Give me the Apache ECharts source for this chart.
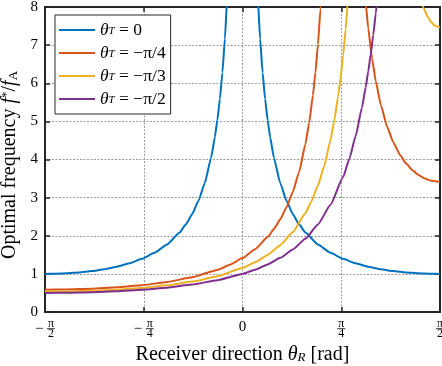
<!DOCTYPE html>
<html>
<head>
<meta charset="utf-8">
<script src="https://cdn.jsdelivr.net/npm/echarts@6/dist/echarts.min.js"></script>
<style>
  html, body { margin: 0; padding: 0; background: #fff; }
  #chart { width: 442px; height: 366px; }
</style>
</head>
<body>
<div id="chart"></div>
<script>
// Optimal frequency f*/f_A versus receiver direction theta_R, for four transmitter directions theta_T.
const thetaTLabels = ['0', '\u2212\u03c0/4', '\u2212\u03c0/3', '\u2212\u03c0/2'];
const colors = ['#0072BD', '#D95319', '#EDB120', '#7E2F8E'];

// theta_T = 0 (two branches around theta_R = 0)
const thetaBlueL = [-1.5708, -1.5, -1.4, -1.3, -1.2, -1.1, -1.0, -0.9, -0.8, -0.7, -0.6, -0.5, -0.45, -0.4, -0.35, -0.3, -0.25, -0.22, -0.2, -0.18, -0.16, -0.14, -0.12, -0.11];
const fBlueL = [1.000, 1.003, 1.015, 1.038, 1.073, 1.122, 1.188, 1.277, 1.394, 1.552, 1.771, 2.086, 2.299, 2.568, 2.916, 3.384, 4.042, 4.582, 5.034, 5.586, 6.277, 7.166, 8.354, 9.109];
const thetaBlueR = [0.11, 0.12, 0.14, 0.16, 0.18, 0.2, 0.22, 0.25, 0.3, 0.35, 0.4, 0.45, 0.5, 0.6, 0.7, 0.8, 0.9, 1.0, 1.1, 1.2, 1.3, 1.4, 1.5, 1.5708];
const fBlueR = [9.109, 8.354, 7.166, 6.277, 5.586, 5.034, 4.582, 4.042, 3.384, 2.916, 2.568, 2.299, 2.086, 1.771, 1.552, 1.394, 1.277, 1.188, 1.122, 1.073, 1.038, 1.015, 1.003, 1.000];

// theta_T = -pi/4
const thetaOrangeL = [-1.5708, -1.4, -1.2, -1.0, -0.8, -0.6, -0.4, -0.2, -0.1, 0, 0.1, 0.2, 0.25, 0.3, 0.35, 0.4, 0.45, 0.5, 0.53, 0.56, 0.58, 0.6, 0.62, 0.64];
const fOrangeL = [0.586, 0.591, 0.610, 0.646, 0.702, 0.786, 0.912, 1.104, 1.239, 1.414, 1.647, 1.967, 2.175, 2.430, 2.746, 3.148, 3.675, 4.392, 4.961, 5.684, 6.286, 7.019, 7.932, 9.098];
const thetaOrangeR = [0.96, 0.98, 1.0, 1.03, 1.06, 1.1, 1.15, 1.2, 1.25, 1.3, 1.35, 1.4, 1.45, 1.5, 1.5708];
const fOrangeR = [8.922, 8.104, 7.443, 6.658, 6.051, 5.432, 4.863, 4.446, 4.134, 3.899, 3.723, 3.593, 3.501, 3.444, 3.414];

// theta_T = -pi/3
const thetaYellowL = [-1.5708, -1.4, -1.2, -1.0, -0.8, -0.6, -0.4, -0.2, 0, 0.1, 0.2, 0.3, 0.4, 0.5, 0.55, 0.6, 0.65, 0.7, 0.73, 0.76, 0.78, 0.8, 0.82, 0.84, 0.86];
const fYellowL = [0.536, 0.540, 0.556, 0.586, 0.632, 0.699, 0.797, 0.939, 1.155, 1.305, 1.498, 1.753, 2.098, 2.587, 2.913, 3.318, 3.834, 4.508, 5.021, 5.646, 6.144, 6.726, 7.414, 8.238, 9.243];
const thetaYellowR = [1.42, 1.44, 1.47, 1.5, 1.53, 1.5708];
const fYellowR = [8.155, 7.973, 7.759, 7.607, 7.511, 7.464];

// theta_T = -pi/2
const thetaPurple = [-1.5708, -1.4, -1.2, -1.0, -0.8, -0.6, -0.4, -0.2, 0, 0.1, 0.2, 0.3, 0.4, 0.5, 0.6, 0.7, 0.8, 0.85, 0.9, 0.95, 0.98, 1.0, 1.02, 1.04, 1.06, 1.08, 1.1];
const fPurple = [0.500, 0.504, 0.518, 0.543, 0.582, 0.639, 0.720, 0.834, 1.000, 1.111, 1.248, 1.420, 1.638, 1.921, 2.297, 2.811, 3.538, 4.021, 4.615, 5.360, 5.900, 6.308, 6.762, 7.267, 7.835, 8.472, 9.192];

// axis ranges and ticks
const xMin = -Math.PI / 2, xMax = Math.PI / 2, xStep = Math.PI / 4;
const yMin = 0, yMax = 8, yStep = 1;

const pairs = (xs, ys) => xs.map((x, i) => [x, ys[i]]);

const branches = [
  { k: 0, d: pairs(thetaBlueL, fBlueL) },
  { k: 0, d: pairs(thetaBlueR, fBlueR) },
  { k: 1, d: pairs(thetaOrangeL, fOrangeL) },
  { k: 1, d: pairs(thetaOrangeR, fOrangeR) },
  { k: 2, d: pairs(thetaYellowL, fYellowL) },
  { k: 2, d: pairs(thetaYellowR, fYellowR) },
  { k: 3, d: pairs(thetaPurple, fPurple) }
];

const SERIF = 'Liberation Serif';
const INK = '#262626';
const GRID = '#9a9a9a';

const series = branches.map(b => ({
  type: 'line',
  name: thetaTLabels[b.k],
  data: b.d,
  xAxisIndex: 0,
  yAxisIndex: 0,
  symbol: 'none',
  showSymbol: false,
  clip: true,
  smooth: 0.15,
  smoothMonotone: 'x',
  color: colors[b.k],
  itemStyle: { color: colors[b.k] },
  lineStyle: { color: colors[b.k], width: 2 },
  z: 3 + b.k
}));

// stacked-fraction tick labels for multiples of pi/4
function piLabel(v) {
  const k = Math.round(v / xStep);
  if (k === 0) return '{z|0}';
  const den = Math.abs(k) === 1 ? '4' : '2';
  if (k < 0) return '{sp|}{n|\u03c0}\n{m|\u2212}{bar|}\n{sp|}{d|' + den + '}';
  return '{n|\u03c0}\n{bar|}\n{d|' + den + '}';
}

const option = {
  animation: false,
  backgroundColor: '#fff',
  grid: { left: 45, right: 2, top: 7, bottom: 54, containLabel: false, outerBoundsMode: 'none' },
  legend: {
    data: thetaTLabels,
    orient: 'vertical',
    left: 55,
    top: 15,
    padding: [6, 5, 6, 4],
    itemGap: 5,
    itemWidth: 36,
    itemHeight: 2,
    icon: 'rect',
    backgroundColor: '#fff',
    borderColor: INK,
    borderWidth: 1,
    borderRadius: 0,
    selectedMode: false,
    formatter: name => '{i|\u03b8}{s|T}{t| = ' + name + '}',
    textStyle: {
      color: '#000',
      rich: {
        t: { fontFamily: SERIF, fontSize: 17.5, lineHeight: 14, color: '#000' },
        i: { fontFamily: SERIF, fontSize: 17.5, fontStyle: 'italic', lineHeight: 14, color: '#000' },
        s: { fontFamily: SERIF, fontSize: 11, fontStyle: 'italic', lineHeight: 6, verticalAlign: 'bottom', color: '#000' }
      }
    }
  },
  xAxis: [
    {
      type: 'value', min: xMin, max: xMax, interval: xStep, position: 'bottom',
      name: '{t|Receiver direction }{i|\u03b8}{s|R}{t| [rad]}',
      nameLocation: 'middle', nameGap: 28,
      nameTextStyle: {
        rich: {
          t: { fontFamily: SERIF, fontSize: 20, lineHeight: 20, color: '#000' },
          i: { fontFamily: SERIF, fontSize: 20, fontStyle: 'italic', lineHeight: 20, color: '#000' },
          s: { fontFamily: SERIF, fontSize: 13, fontStyle: 'italic', lineHeight: 8, verticalAlign: 'bottom', color: '#000' }
        }
      },
      axisLine: { show: true, onZero: false, lineStyle: { color: INK, width: 2 } },
      axisTick: { show: true, inside: true, length: 5, lineStyle: { color: INK, width: 1.5 } },
      splitLine: { show: true, lineStyle: { color: GRID, width: 1, type: [2, 1.5] } },
      axisLabel: {
        margin: 8,
        formatter: piLabel,
        rich: {
          z: { fontFamily: SERIF, fontSize: 15, lineHeight: 14, color: '#000' },
          n: { fontFamily: SERIF, fontSize: 12, width: 8, align: 'center', lineHeight: 8, color: '#000' },
          d: { fontFamily: SERIF, fontSize: 12, width: 8, align: 'center', lineHeight: 8, color: '#000' },
          bar: { width: 8, height: 0.8, lineHeight: 1.5, backgroundColor: '#000' },
          m: { fontFamily: SERIF, fontSize: 15, width: 12, align: 'left', lineHeight: 1.5, color: '#000' },
          sp: { width: 12, lineHeight: 8 }
        }
      }
    },
    {
      type: 'value', min: xMin, max: xMax, interval: xStep, position: 'top',
      axisLine: { show: true, onZero: false, lineStyle: { color: INK, width: 2 } },
      axisTick: { show: true, inside: true, length: 5, lineStyle: { color: INK, width: 1.5 } },
      axisLabel: { show: false },
      splitLine: { show: false }
    }
  ],
  yAxis: [
    {
      type: 'value', min: yMin, max: yMax, interval: yStep, position: 'left',
      name: '{t|Optimal frequency }{i|f}{p|*}{t|/}{i|f}{s|A}',
      nameLocation: 'middle', nameRotate: 90, nameGap: 22,
      nameTextStyle: {
        padding: [0, 11, 0, 0],
        rich: {
          t: { fontFamily: SERIF, fontSize: 20, lineHeight: 20, color: '#000' },
          i: { fontFamily: SERIF, fontSize: 20, fontStyle: 'italic', lineHeight: 20, color: '#000' },
          p: { fontFamily: SERIF, fontSize: 13, lineHeight: 8, verticalAlign: 'top', color: '#000' },
          s: { fontFamily: SERIF, fontSize: 13, lineHeight: 8, verticalAlign: 'bottom', color: '#000' }
        }
      },
      axisLine: { show: true, onZero: false, lineStyle: { color: INK, width: 2 } },
      axisTick: { show: true, inside: true, length: 5, lineStyle: { color: INK, width: 1.5 } },
      splitLine: { show: true, lineStyle: { color: GRID, width: 1, type: [2, 1.5] } },
      axisLabel: { margin: 7, fontFamily: SERIF, fontSize: 15, color: '#000' }
    },
    {
      type: 'value', min: yMin, max: yMax, interval: yStep, position: 'right',
      axisLine: { show: true, onZero: false, lineStyle: { color: INK, width: 2 } },
      axisTick: { show: true, inside: true, length: 5, lineStyle: { color: INK, width: 1.5 } },
      axisLabel: { show: false },
      splitLine: { show: false }
    }
  ],
  series: series
};

const chart = echarts.init(document.getElementById('chart'), null, { renderer: 'canvas' });
chart.setOption(option);
</script>
</body>
</html>
